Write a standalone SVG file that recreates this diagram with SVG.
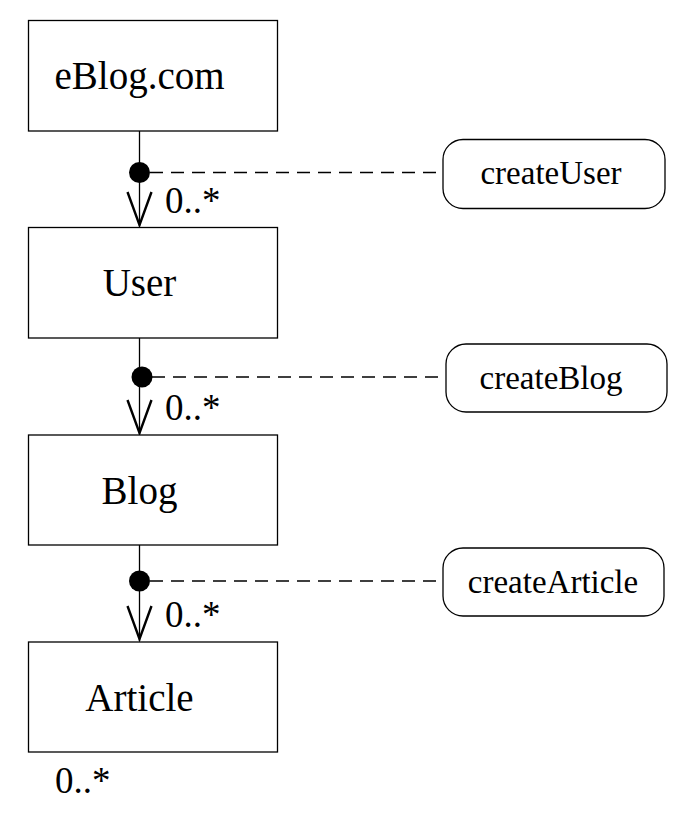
<svg xmlns="http://www.w3.org/2000/svg" width="699" height="814" viewBox="0 0 699 814">
<style>
.box{fill:#fff;stroke:#000;stroke-width:1.3}
.op{fill:#fff;stroke:#000;stroke-width:1.3}
.t{font-family:"Liberation Serif",serif;fill:#000}
.big{font-size:39px;text-anchor:middle}
.lab{font-size:33px;text-anchor:middle}
.mul{font-size:37px}
.ln{stroke:#000;stroke-width:1.3;fill:none}
.dash{stroke:#000;stroke-width:1.3;stroke-dasharray:13,8;fill:none}
.arr{stroke:#000;stroke-width:2.4;fill:none}
</style>
<rect width="699" height="814" fill="#fff"/>
<g id="connectors">
<line class="ln" x1="139.5" y1="131" x2="139.5" y2="226"/>
<polyline class="arr" points="127.5,192 139.5,225 151.5,192"/>
<line class="dash" x1="150" y1="172.5" x2="443" y2="172.5"/>
<circle cx="139.5" cy="172.5" r="10.5" fill="#000"/>
<text class="t mul" x="165" y="213">0..*</text>

<line class="ln" x1="139.5" y1="338" x2="139.5" y2="434"/>
<polyline class="arr" points="127.5,400 139.5,433 151.5,400"/>
<line class="dash" x1="152" y1="377" x2="446" y2="377"/>
<circle cx="142" cy="377" r="10.5" fill="#000"/>
<text class="t mul" x="165" y="420">0..*</text>

<line class="ln" x1="139.5" y1="545" x2="139.5" y2="641"/>
<polyline class="arr" points="127.5,606 139.5,639 151.5,606"/>
<line class="dash" x1="150" y1="581" x2="443" y2="581"/>
<circle cx="139.5" cy="581" r="10.5" fill="#000"/>
<text class="t mul" x="165" y="627">0..*</text>

<text class="t mul" x="55" y="793">0..*</text>
</g>
<g id="eblog">
<rect class="box" x="28.5" y="20.5" width="249" height="110.5"/>
<text class="t big" x="139.5" y="89">eBlog.com</text>
</g>
<g id="user">
<rect class="box" x="28.5" y="227.5" width="249" height="110.5"/>
<text class="t big" x="139.5" y="296">User</text>
</g>
<g id="blog">
<rect class="box" x="28.5" y="435" width="249" height="110"/>
<text class="t big" x="139.5" y="504">Blog</text>
</g>
<g id="article">
<rect class="box" x="28.5" y="642" width="249" height="110"/>
<text class="t big" x="139.5" y="711">Article</text>
</g>
<g id="createUser">
<rect class="op" x="443" y="139.5" width="222" height="69" rx="20" ry="20"/>
<text class="t lab" x="551" y="184">createUser</text>
</g>
<g id="createBlog">
<rect class="op" x="446" y="344" width="221" height="68" rx="20" ry="20"/>
<text class="t lab" x="551" y="389">createBlog</text>
</g>
<g id="createArticle">
<rect class="op" x="443" y="548" width="221" height="68" rx="20" ry="20"/>
<text class="t lab" x="553" y="593">createArticle</text>
</g>
</svg>
